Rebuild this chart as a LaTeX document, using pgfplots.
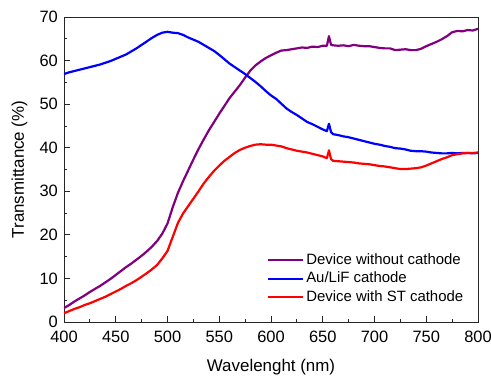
\documentclass[border=0pt]{standalone}
\usepackage{fontspec}
\setmainfont{Liberation Sans}
\usepackage{pgfplots}
\pgfplotsset{compat=1.18}
\definecolor{cpurple}{RGB}{128,0,128}
\definecolor{cblue}{RGB}{0,0,255}
\definecolor{cred}{RGB}{255,0,0}
\begin{document}
\begin{tikzpicture}
\path[use as bounding box] (-64bp,-56bp) rectangle (427bp,322bp);
\begin{axis}[
  scale only axis,
  width=414bp, height=305bp,
  at={(0,0)}, anchor=south west,
  xmin=400, xmax=800, ymin=0, ymax=70,
  xtick={400,450,...,800}, ytick={0,10,...,70},
  minor x tick num=1, minor y tick num=1,
  tick align=inside, tick pos=left,
  major tick length=6bp, minor tick length=3.5bp,
  axis line style={draw=black!85, line width=0.9bp},
  every tick/.style={black!85, line width=0.8bp},
  /pgf/number format/assume math mode=true,
  tick label style={font=\fontsize{16.5}{19}\selectfont},
  xticklabel style={anchor=base, yshift=-20.5bp, inner sep=0pt},
  yticklabel style={anchor=east, inner sep=0pt, xshift=-6bp},
  xlabel={Wavelenght (nm)},
  ylabel={Transmittance (\%)},
  label style={font=\fontsize{17}{20}\selectfont},
  xlabel style={at={(axis description cs:0.5,0)}, anchor=base, yshift=-49.7bp, inner sep=0pt},
  ylabel style={at={(axis description cs:-0.1075,0.5)}, anchor=center, rotate=0, inner sep=0pt},
  legend style={draw=none, fill=none, at={(rel axis cs:0.490,0.05)}, anchor=south west,
    inner sep=0pt, row sep=0pt,
    nodes={inner sep=2bp, text height=11bp, text depth=3.5bp, font=\fontsize{15}{18}\selectfont}},
  legend cell align=left,
  legend image code/.code={\draw[#1, line width=2.2bp] (0bp,0bp) -- (35bp,0bp);},
]
\addplot[cpurple, line width=2.2bp, line join=round] coordinates {
(400,3.2)(405,3.9)(410,4.7)(415,5.4)(420,6.1)(425,6.9)(430,7.6)(435,8.3)(440,9.1)(445,9.9)(450,10.8)(455,11.7)(460,12.6)(465,13.4)(470,14.3)(475,15.2)(480,16.2)(485,17.3)(490,18.6)(495,20.3)(500,22.6)(505,26.3)(510,29.6)(515,32.3)(520,34.8)(525,37.3)(530,39.7)(535,41.9)(540,44.0)(545,45.9)(550,47.8)(555,49.6)(560,51.4)(565,52.9)(570,54.4)(575,56.1)(580,57.7)(585,58.9)(590,59.8)(595,60.6)(600,61.2)(605,61.8)(610,62.3)(615,62.4)(620,62.6)(625,62.8)(630,63.0)(635,62.9)(640,63.2)(645,63.1)(650,63.4)(654,63.4)(656,65.6)(658,63.6)(660,63.5)(665,63.4)(670,63.5)(675,63.3)(680,63.6)(685,63.4)(690,63.3)(695,63.3)(700,63.1)(705,62.9)(710,62.8)(715,62.8)(720,62.4)(725,62.5)(730,62.6)(735,62.4)(740,62.4)(745,62.7)(750,63.3)(755,63.8)(760,64.3)(765,64.9)(770,65.6)(775,66.5)(780,66.8)(785,66.7)(790,67.0)(795,66.9)(800,67.3)
};
\addlegendentry{Device without cathode}
\addplot[cblue, line width=2.2bp, line join=round] coordinates {
(400,56.9)(405,57.3)(410,57.6)(415,57.9)(420,58.2)(425,58.5)(430,58.8)(435,59.1)(440,59.5)(445,59.9)(450,60.4)(455,60.9)(460,61.4)(465,62.1)(470,62.8)(475,63.6)(480,64.4)(485,65.2)(490,65.9)(495,66.4)(500,66.6)(505,66.4)(510,66.3)(515,65.9)(520,65.3)(525,64.8)(530,64.3)(535,63.6)(540,62.9)(545,62.2)(550,61.3)(555,60.3)(560,59.3)(565,58.5)(570,57.7)(575,56.9)(580,56.0)(585,55.1)(590,54.1)(595,53.0)(600,52.0)(605,51.2)(610,50.1)(615,49.0)(620,48.2)(625,47.5)(630,46.7)(635,45.9)(640,45.4)(645,44.8)(650,44.2)(654,43.8)(656,45.5)(658,43.6)(660,43.1)(665,42.9)(670,42.6)(675,42.4)(680,42.1)(685,41.8)(690,41.5)(695,41.2)(700,40.9)(705,40.7)(710,40.4)(715,40.2)(720,39.9)(725,39.8)(730,39.6)(735,39.3)(740,39.2)(745,39.2)(750,39.1)(755,38.9)(760,38.8)(765,38.7)(770,38.7)(775,38.8)(780,38.7)(785,38.8)(790,38.8)(795,38.7)(800,38.8)
};
\addlegendentry{Au/LiF cathode}
\addplot[cred, line width=2.2bp, line join=round] coordinates {
(400,2.0)(405,2.5)(410,3.0)(415,3.4)(420,3.9)(425,4.3)(430,4.8)(435,5.3)(440,5.8)(445,6.4)(450,7.0)(455,7.6)(460,8.3)(465,8.9)(470,9.6)(475,10.4)(480,11.2)(485,12.1)(490,13.1)(495,14.6)(500,16.3)(505,19.5)(510,22.7)(515,24.9)(520,26.6)(525,28.3)(530,30.0)(535,31.8)(540,33.3)(545,34.7)(550,35.9)(555,37.0)(560,37.9)(565,38.8)(570,39.5)(575,40.0)(580,40.4)(585,40.7)(590,40.8)(595,40.7)(600,40.7)(605,40.5)(610,40.3)(615,39.9)(620,39.6)(625,39.3)(630,39.1)(635,38.9)(640,38.6)(645,38.3)(650,38.0)(654,37.6)(656,39.4)(658,37.4)(660,37.0)(665,36.9)(670,36.8)(675,36.7)(680,36.6)(685,36.4)(690,36.3)(695,36.2)(700,36.0)(705,35.8)(710,35.7)(715,35.5)(720,35.3)(725,35.1)(730,35.1)(735,35.2)(740,35.3)(745,35.5)(750,35.9)(755,36.4)(760,36.9)(765,37.4)(770,37.8)(775,38.3)(780,38.5)(785,38.7)(790,38.8)(795,38.8)(800,38.9)
};
\addlegendentry{Device with ST cathode}
\end{axis}
\end{tikzpicture}
\end{document}
